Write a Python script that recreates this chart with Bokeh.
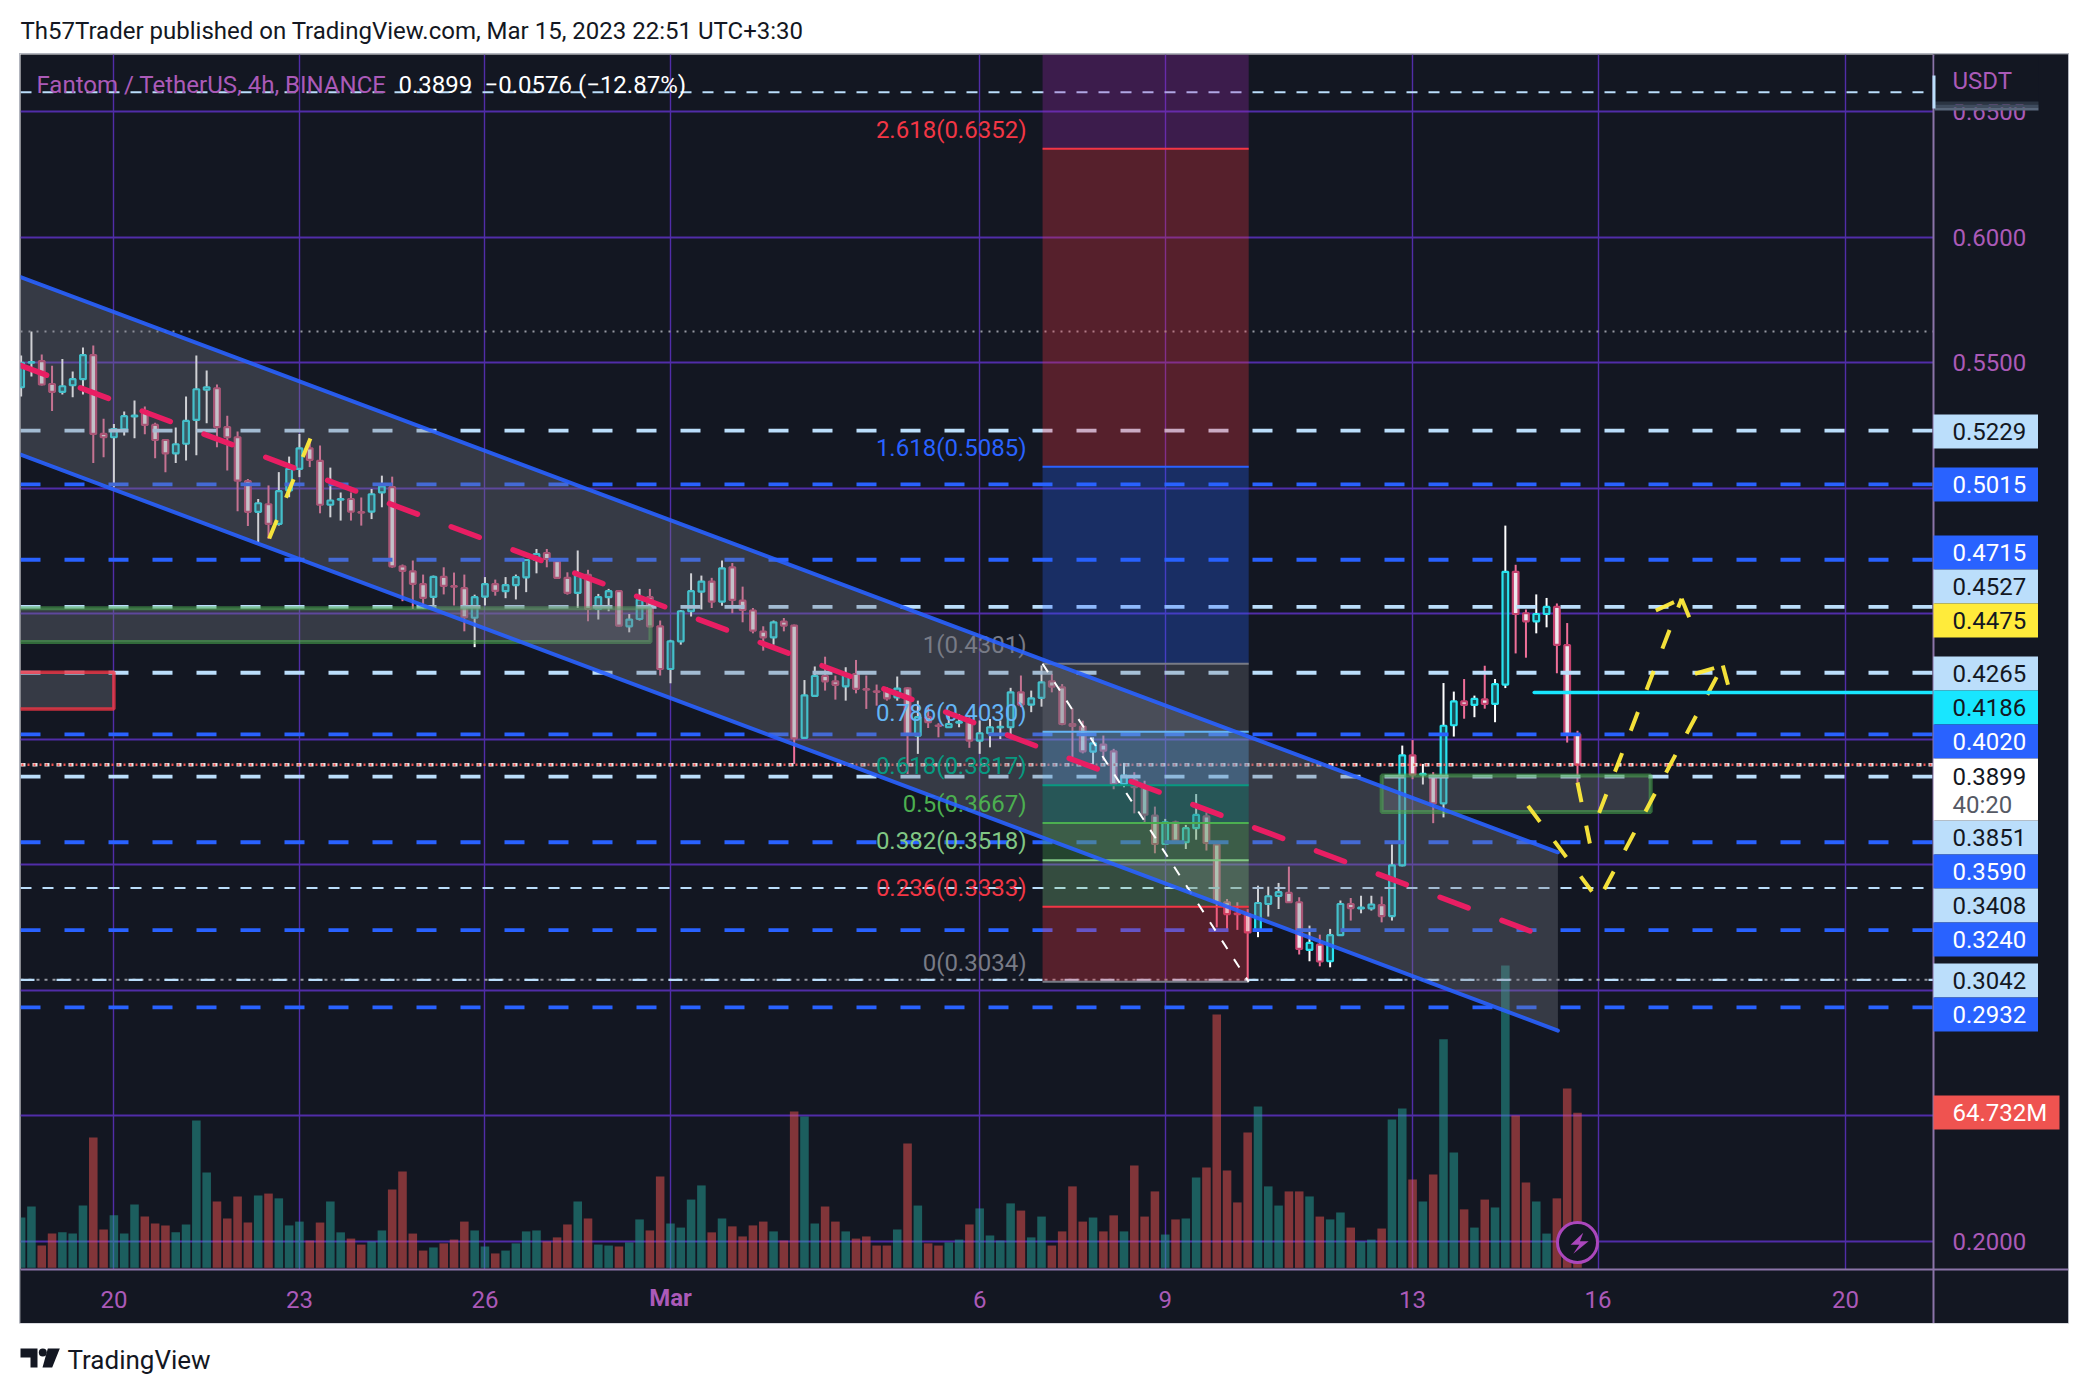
from bokeh.embed import file_html
from bokeh.resources import INLINE
from bokeh.layouts import column
from bokeh.plotting import figure
from bokeh.core.properties import value
from bokeh.models import Range1d, FixedTicker, NumeralTickFormatter

# FTM/USDT 4h candles, bar 0 is Feb 20 00:00, 6 bars a day
bars = list(range(-9, 143))

opens = [
    .5402, .5500, .5506, .5415, .5384, .5410, .5434, .5530, .5216, .5203,
    .5234, .5286, .5307, .5252, .5192, .5139, .5177, .5272, .5392, .5398,
    .5243, .5203, .5028, .4906, .4936, .4858, .4991, .5077, .5159, .5109,
    .4934, .4954, .4957, .4905, .4907, .4983, .5004, .4689, .4669, .4618,
    .4567, .4647, .4610, .4602, .4484, .4568, .4618, .4590, .4614, .4645,
    .4714, .4742, .4709, .4643, .4583, .4655, .4519, .4566, .4590, .4450,
    .4479, .4566, .4450, .4280, .4390, .4510, .4588, .4628, .4548, .4685,
    .4552, .4513, .4429, .4406, .4469, .4453, .4006, .4173, .4252, .4231,
    .4211, .4260, .4200, .4191, .4194, .4167, .4203, .4015, .4088, .4055,
    .4048, .4066, .4068, .3995, .4024, .4047, .4048, .4187, .4138, .4165,
    .4231, .4207, .4061, .4051, .3951, .3979, .3952, .3822, .3838, .3809,
    .3696, .3583, .3669, .3590, .3646, .3693, .3581, .3351, .3306, .3302,
    .3238, .3344, .3376, .3388, .3351, .3161, .3182, .3116, .3220, .3344,
    .3327, .3327, .3340, .3296, .3498, .3936, .3859, .3855, .3745, .4056,
    .4151, .4137, .4159, .4141, .4218, .4667, .4502, .4470, .4499, .4527,
    .4375, .4019,
]
highs = [
    .5528, .5624, .5532, .5488, .5515, .5465, .5560, .5568, .5277, .5256,
    .5305, .5349, .5325, .5261, .5196, .5242, .5365, .5528, .5469, .5413,
    .5289, .5226, .5037, .4957, .5011, .5064, .5126, .5216, .5196, .5170,
    .5082, .4983, .4983, .4963, .4997, .5050, .5046, .4696, .4712, .4656,
    .4652, .4685, .4664, .4656, .4576, .4646, .4636, .4646, .4656, .4718,
    .4758, .4758, .4718, .4665, .4752, .4675, .4579, .4599, .4592, .4499,
    .4599, .4599, .4473, .4396, .4515, .4661, .4652, .4643, .4712, .4702,
    .4608, .4523, .4450, .4473, .4483, .4457, .4236, .4290, .4329, .4254,
    .4287, .4316, .4254, .4218, .4207, .4250, .4207, .4154, .4128, .4064,
    .4114, .4101, .4088, .4075, .4081, .4075, .4205, .4254, .4194, .4294,
    .4260, .4220, .4123, .4074, .4008, .4015, .3962, .3906, .3869, .3835,
    .3732, .3683, .3676, .3659, .3782, .3709, .3583, .3364, .3351, .3324,
    .3417, .3413, .3428, .3493, .3371, .3258, .3222, .3245, .3358, .3368,
    .3377, .3377, .3374, .3581, .3975, .3997, .3902, .3869, .4224, .4190,
    .4240, .4174, .4293, .4240, .4851, .4695, .4517, .4577, .4563, .4541,
    .4463, .4034,
]
lows = [
    .5365, .5445, .5409, .5307, .5373, .5362, .5373, .5100, .5123, .5004,
    .5210, .5199, .5215, .5119, .5064, .5100, .5110, .5131, .5259, .5163,
    .5070, .4908, .4849, .4785, .4798, .4851, .4964, .5044, .5084, .4900,
    .4884, .4871, .4871, .4851, .4877, .4924, .4683, .4550, .4519, .4519,
    .4519, .4577, .4533, .4430, .4367, .4533, .4572, .4562, .4557, .4586,
    .4661, .4685, .4639, .4576, .4523, .4470, .4477, .4510, .4449, .4426,
    .4473, .4446, .4254, .4223, .4377, .4489, .4517, .4523, .4532, .4502,
    .4466, .4422, .4353, .4377, .4430, .3902, .4004, .4171, .4194, .4158,
    .4154, .4183, .4121, .4134, .4154, .4154, .3862, .3942, .4045, .4008,
    .4045, .4048, .3966, .3942, .3968, .4001, .4021, .4128, .4108, .4130,
    .4187, .4056, .3928, .3944, .3902, .3915, .3801, .3809, .3705, .3669,
    .3546, .3581, .3594, .3563, .3600, .3557, .3251, .3238, .3241, .3039,
    .3212, .3294, .3324, .3348, .3143, .3116, .3096, .3092, .3218, .3278,
    .3307, .3318, .3271, .3278, .3494, .3841, .3820, .3666, .3689, .4011,
    .4082, .4088, .4122, .4068, .4204, .4342, .4325, .4422, .4446, .4263,
    .3987, .3827,
]
closes = [
    .5499, .5502, .5413, .5384, .5406, .5434, .5530, .5216, .5203, .5235,
    .5287, .5289, .5252, .5192, .5139, .5175, .5268, .5394, .5402, .5243,
    .5203, .5030, .4906, .4940, .4858, .4988, .5077, .5159, .5113, .4934,
    .4951, .4957, .4907, .4903, .4976, .5007, .4689, .4671, .4619, .4563,
    .4647, .4611, .4608, .4486, .4566, .4618, .4591, .4614, .4646, .4714,
    .4738, .4718, .4643, .4583, .4652, .4519, .4566, .4590, .4453, .4477,
    .4556, .4450, .4280, .4390, .4510, .4590, .4628, .4548, .4681, .4555,
    .4515, .4433, .4406, .4466, .4453, .4004, .4175, .4252, .4231, .4217,
    .4254, .4201, .4198, .4189, .4163, .4202, .4021, .4088, .4068, .4053,
    .4061, .4069, .3995, .4024, .4048, .4050, .4187, .4138, .4163, .4227,
    .4210, .4061, .4053, .3952, .3984, .3955, .3822, .3855, .3809, .3700,
    .3583, .3669, .3597, .3646, .3699, .3587, .3351, .3304, .3304, .3231,
    .3348, .3375, .3391, .3351, .3165, .3189, .3115, .3220, .3344, .3328,
    .3330, .3342, .3296, .3498, .3936, .3859, .3862, .3745, .4054, .4151,
    .4137, .4161, .4141, .4220, .4667, .4499, .4470, .4499, .4527, .4376,
    .4019, .3899,
]
# volume in millions
volumes = [
    21.0, 25.6, 9.3, 14.3, 14.8, 14.3, 26.0, 54.4, 16.0, 21.9,
    14.3, 26.4, 21.4, 18.5, 17.7, 14.8, 18.1, 61.5, 39.8, 27.7,
    20.6, 29.8, 18.9, 30.2, 31.0, 29.0, 17.7, 19.3, 11.4, 18.9,
    27.7, 14.8, 12.2, 9.7, 11.0, 15.6, 32.7, 40.2, 14.3, 7.2,
    8.5, 10.2, 11.8, 19.3, 15.6, 8.9, 6.0, 7.2, 10.2, 15.2,
    15.6, 11.0, 12.7, 18.1, 27.7, 20.6, 9.7, 9.3, 8.9, 10.6,
    20.2, 15.6, 38.1, 18.5, 16.8, 28.5, 34.4, 14.8, 20.6, 17.3,
    13.1, 17.7, 19.3, 15.2, 11.4, 65.3, 63.2, 18.5, 25.6, 19.3,
    15.2, 12.2, 13.1, 9.3, 9.3, 16.0, 51.9, 26.0, 10.2, 9.3,
    10.6, 11.8, 18.1, 24.8, 13.5, 11.4, 26.9, 23.9, 12.7, 21.4,
    9.3, 15.2, 34.0, 19.3, 21.0, 15.2, 21.9, 15.2, 42.7, 21.4,
    31.9, 13.9, 20.2, 20.6, 37.7, 41.9, 105.8, 40.6, 27.3, 56.5,
    67.4, 34.0, 26.0, 31.9, 31.9, 29.8, 21.4, 20.2, 23.1, 16.8,
    11.0, 11.8, 16.4, 61.9, 66.5, 36.9, 27.7, 39.0, 95.4, 48.2,
    24.4, 16.8, 28.5, 25.2, 126.3, 63.6, 35.6, 27.7, 14.3, 29.0,
    74.9, 64.732,
]

time_ticks = [0, 18, 36, 54, 84, 102, 126, 144, 168]
time_labels = ["20", "23", "26", "", "6", "9", "13", "16", "20"]
price_grid = [.20, .25, .30, .35, .40, .45, .50, .55, .60, .65]
price_ticks = [.20, .55, .60, .65]

light_levels = [.5229, .4527, .4265, .3851]
blue_levels = [.5015, .4715, .4020, .3590, .3240, .2932]
thin_levels = [.6577, .3408]

fib_ratio = ["0", "0.236", "0.382", "0.5", "0.618", "0.786", "1", "1.618", "2.618"]
fib_price = [.3034, .3333, .3518, .3667, .3817, .4030, .4301, .5085, .6352]
fib_color = ["#787b86", "#f23645", "#81c784", "#4caf50", "#089981", "#64b5f6", "#787b86", "#2962ff", "#f23645"]
fib_band = ["#f23645", "#81c784", "#4caf50", "#089981", "#64b5f6", "#787b86", "#2962ff", "#f23645", "#9c27b0"]
fib_left, fib_right = 90.1, 110.1

channel_x = [-9.06, 140.1]
channel_top = [.5841, .3550]
channel_bot = [.5134, .2840]
channel_midx = [-9.25, 140.1]
channel_mid = [.5492, .3195]

price_boxes = ["0.5229", "0.5015", "0.4715", "0.4527", "0.4475", "0.4265", "0.4186", "0.4020",
               "0.3851", "0.3590", "0.3408", "0.3240", "0.3042", "0.2932"]
box_fill = ["#bbdefb", "#2962ff", "#2962ff", "#bbdefb", "#ffeb3b", "#bbdefb", "#18e6ff", "#2962ff",
            "#bbdefb", "#2962ff", "#bbdefb", "#2962ff", "#bbdefb", "#2962ff"]
box_ink = ["#131722", "#ffffff", "#ffffff", "#131722", "#131722", "#131722", "#131722", "#ffffff",
           "#131722", "#ffffff", "#131722", "#ffffff", "#131722", "#ffffff"]
box_center = [431, 484, 552, 586, 620, 673, 707, 741, 837, 871, 905, 939, 980, 1014]

BG = "#131722"
FONT = "Roboto"
PURPLE_TXT = "#ab5ab8"
GRID = "#512da8"
AXIS = "#8b74a8"
SIZE = "24px"


# the reference is read in page pixels, these turn them into the chart's own scales
def bx(px):
    return (px - 113.4) / 10.307


def py(y):
    return 0.2 + (1241 - y) / 2511


X0, X1 = bx(20), bx(1933)

header = figure(width=2072, height=46, x_range=(8, 2080), y_range=(54, 8),
                toolbar_location=None, output_backend="svg", min_border=0,
                outline_line_color=None, border_fill_color="white", background_fill_color="white")
header.axis.visible = False
header.grid.visible = False
header.text(x=[20], y=[30], text=["Th57Trader published on TradingView.com, Mar 15, 2023 22:51 UTC+3:30"],
            text_font=value(FONT), text_font_size=SIZE, text_color="#131722", text_baseline="middle")

# the frame takes the whole dark pane, axes sit at fixed spots inside it
p = figure(width=2048, height=1269, x_range=(bx(20), bx(2068)), y_range=(py(1323), py(54)),
           y_axis_location="right", toolbar_location=None, output_backend="svg",
           min_border=0, background_fill_color=BG, border_fill_color=BG, outline_line_color=None,
           margin=(0, 0, 0, 12), styles={"outline": "1px solid #b2b5be"})

p.xaxis[0].fixed_location = py(1269)
p.yaxis[0].fixed_location = bx(1933)
p.xaxis.ticker = FixedTicker(ticks=time_ticks)
p.xaxis.major_label_overrides = {t: s for t, s in zip(time_ticks, time_labels)}
p.xaxis.major_label_text_color = PURPLE_TXT
p.xaxis.major_label_text_font = FONT
p.xaxis.major_label_text_font_size = SIZE
p.xaxis.major_label_standoff = 15
p.yaxis.ticker = FixedTicker(ticks=price_ticks)
p.yaxis.formatter = NumeralTickFormatter(format="0.0000")
p.yaxis.major_label_text_color = PURPLE_TXT
p.yaxis.major_label_text_font = FONT
p.yaxis.major_label_text_font_size = SIZE
p.yaxis.major_label_standoff = 13
for ax in [p.xaxis[0], p.yaxis[0]]:
    ax.axis_line_color = AXIS
    ax.axis_line_width = 2
    ax.major_tick_line_color = None
    ax.minor_tick_line_color = None

p.xgrid.ticker = FixedTicker(ticks=time_ticks)
p.ygrid.ticker = FixedTicker(ticks=price_grid)
p.xgrid.grid_line_color = GRID
p.ygrid.grid_line_color = GRID
p.xgrid.grid_line_width = 1.4
p.ygrid.grid_line_width = 2

# cover the grid where the axes have their bands
p.quad(left=[bx(1933)], right=[bx(2070)], bottom=[py(1325)], top=[py(52)], fill_color=BG, line_color=None)
p.quad(left=[bx(18)], right=[bx(2070)], bottom=[py(1325)], top=[py(1269)], fill_color=BG, line_color=None)

# volume
p.extra_y_ranges = {"vol": Range1d(-23.26, 506.7)}
vol_color = ["#26a69a" if c >= o else "#ef5350" for o, c in zip(opens, closes)]
p.vbar(x=bars, top=volumes, bottom=0, width=0.83, fill_color=vol_color, fill_alpha=0.5,
       line_color=None, y_range_name="vol")

# candles
up = [c >= o for o, c in zip(opens, closes)]
body_top = [max(o, c) for o, c in zip(opens, closes)]
body_bot = [min(o, c) for o, c in zip(opens, closes)]
wick_color = ["#ffffff" if u else "#ef6f98" for u in up]
p.segment(x0=bars, x1=bars, y0=highs, y1=body_top, line_color=wick_color, line_width=2)
p.segment(x0=bars, x1=bars, y0=body_bot, y1=lows, line_color=wick_color, line_width=2)
p.vbar(x=bars, top=body_top, bottom=body_bot, width=0.55,
       fill_color=["#1f6f78" if u else "#ece8ec" for u in up],
       fill_alpha=[0.6 if u else 1 for u in up],
       line_color=["#28e3ee" if u else "#c4426e" for u in up], line_width=2.2)


# price levels
def level(lvl, color, width, dash, **kw):
    p.segment(x0=[X0], x1=[X1], y0=[lvl], y1=[lvl], line_color=color, line_width=width, line_dash=dash, **kw)


for lvl in light_levels:
    level(lvl, "#bbdefb", 3.8, "20 24")
for lvl in blue_levels:
    level(lvl, "#2962ff", 3.8, "20 24")
for lvl in thin_levels:
    level(lvl, "#bbdefb", 2, "11 11")
level(.3042, "#9598a1", 2, "3 5")
level(.3042, "#bbdefb", 2.2, "14 22")
level(.5624, "#9598a1", 2, "2 6")
level(.3899, "#e8e8ea", 3.5, "5 7")
level(.3899, "#ef5350", 2.5, "2 4", line_dash_offset=5)

# grey zones
GREY = "#787b86"
p.quad(left=[-12], right=[52.06], bottom=[.4387], top=[.4522], fill_color=GREY, fill_alpha=0.35,
       line_color="#4caf50", line_alpha=0.55, line_width=4)
p.quad(left=[-12], right=[0], bottom=[.4121], top=[.4267], fill_color=GREY, fill_alpha=0.35,
       line_color="#f23645", line_alpha=0.8, line_width=3.5)
p.varea(x=channel_x, y1=channel_bot, y2=channel_top, fill_color=GREY, fill_alpha=0.35)
p.quad(left=[123.0], right=[149.1], bottom=[.3710], top=[.3856], fill_color=GREY, fill_alpha=0.35,
       line_color="#4caf50", line_alpha=0.55, line_width=4)

# fib retracement
band_low = fib_price
band_high = fib_price[1:] + [py(54)]
p.quad(left=fib_left, right=fib_right, bottom=band_low, top=band_high, fill_color=fib_band, fill_alpha=0.3, line_color=None)
p.segment(x0=fib_left, x1=fib_right, y0=fib_price, y1=fib_price, line_color=fib_color, line_width=2)
p.text(x=bx(1026), y=fib_price, text=[f"{r}({v:.4f})" for r, v in zip(fib_ratio, fib_price)],
       text_color=fib_color, text_font=value(FONT), text_font_size=SIZE, text_align="right",
       text_baseline="middle", y_offset=-19)
p.line(x=[fib_left, fib_right], y=[.4301, .3034], line_color="#ffffff", line_width=2, line_dash="10 12")

# channel
p.line(x=channel_x, y=channel_top, line_color="#2962ff", line_width=4, line_alpha=0.9, line_cap="round")
p.line(x=channel_x, y=channel_bot, line_color="#2962ff", line_width=4, line_alpha=0.9, line_cap="round")
p.line(x=channel_midx, y=channel_mid, line_color="#e91e63", line_width=5.5, line_cap="round", line_dash="30 36")

# yellow paths
YEL = "#ffeb3b"
for xs, ys in [([15.07, 19.07], [.4800, .5198]),
               ([137.2, 143.4], [.3735, .3394]),
               ([142.0, 143.2], [.3828, .3585]),
               ([144.1, 152.1], [.3707, .4560]),
               ([149.6, 152.1], [.4513, .4560]),
               ([152.1, 153.1], [.4560, .4460]),
               ([144.6, 156.1], [.3403, .4294]),
               ([153.4, 156.1], [.4261, .4294]),
               ([156.1, 156.8], [.4294, .4187])]:
    p.line(x=xs, y=ys, line_color=YEL, line_width=4, line_dash="20 24", line_alpha=0.95)

# cyan level
p.segment(x0=[137.8], x1=[X1], y0=[.4186], y1=[.4186], line_color="#18e6ff", line_width=3.5, line_cap="round")

# lightning mark
p.scatter(x=[142], y=[py(1242)], size=40, marker="circle", fill_color=BG, line_color="#ab47bc", line_width=3)
bolt_x = [1040 + z / 1.496 for z in [812, 793, 806, 797, 820, 807]]
bolt_y = [1000 + z / 3 for z in [697, 733, 733, 760, 722, 722]]
p.patch(x=[bx(v) for v in bolt_x], y=[py(v) for v in bolt_y], fill_color="#ab47bc", line_color=None)

# legend line
p.text(x=[bx(36)], y=[py(84)], text=["Fantom / TetherUS, 4h, BINANCE"], text_color=PURPLE_TXT,
       text_font=value(FONT), text_font_size=SIZE, text_baseline="middle")
p.text(x=[bx(398), bx(484)], y=[py(84), py(84)], text=["0.3899", "\u22120.0576 (\u221212.87%)"], text_color="#ffffff",
       text_font=value(FONT), text_font_size=SIZE, text_baseline="middle")


def scale_text(text, x, y, color, **kw):
    p.text(x=[bx(x)], y=[py(y)], text=[text], text_color=color, text_font=value(FONT), text_font_size=SIZE,
           text_baseline="middle", level="overlay", **kw)


def scale_box(left, right, y0, y1, fill):
    p.quad(left=[bx(left)], right=[bx(right)], bottom=[py(y1)], top=[py(y0)], fill_color=fill, line_color=None,
           level="overlay")


# usdt corner over the 0.6500 tick
scale_box(1934, 2038, 55, 101, BG)
for y, col in zip([101, 104, 107], ["#2b3442", "#3f4c5e", "#59677b"]):
    scale_box(1934, 2038, y, y + 3, col)
scale_box(1932, 1935, 75, 108, "#bbdefb")
scale_text("USDT", 1952, 80, PURPLE_TXT)

for txt, c, fc, ink in zip(price_boxes, box_center, box_fill, box_ink):
    scale_box(1933, 2037.5, c - 17, c + 17, fc)
    scale_text(txt, 1952, c, ink)
# current price, two rows
scale_box(1933, 2037.5, 758, 820, "#ffffff")
scale_text("0.3899", 1952, 776, "#131722")
scale_text("40:20", 1952, 804, "#555964")
scale_box(1933, 2059, 1095, 1129, "#ef5350")
scale_text("64.732M", 1952, 1112, "#ffffff")

p.text(x=[54], y=[py(1297)], text=["Mar"], text_color=PURPLE_TXT, text_font=value(FONT), text_font_size=SIZE,
       text_font_style="bold", text_align="center", text_baseline="middle", level="overlay")

footer = figure(width=2072, height=60, x_range=(8, 2080), y_range=(1383, 1323),
                toolbar_location=None, output_backend="svg", min_border=0,
                outline_line_color=None, border_fill_color="white", background_fill_color="white")
footer.axis.visible = False
footer.grid.visible = False
footer.patch(x=[20, 37, 37, 30, 30, 20], y=[1348, 1348, 1367, 1367, 1357, 1357], fill_color="#131722", line_color=None)
footer.scatter(x=[42.3], y=[1352], size=8, marker="circle", fill_color="#131722", line_color=None)
footer.patch(x=[47.3, 59.3, 51.7, 42], y=[1348, 1348, 1367, 1367], fill_color="#131722", line_color=None)
footer.text(x=[67], y=[1359], text=["TradingView"], text_font=value(FONT), text_font_size="26px",
            text_color="#131722", text_baseline="middle")

page = column(header, p, footer, spacing=0, margin=(8, 0, 0, 8))
open("out.html", "w").write(file_html(page, INLINE))
